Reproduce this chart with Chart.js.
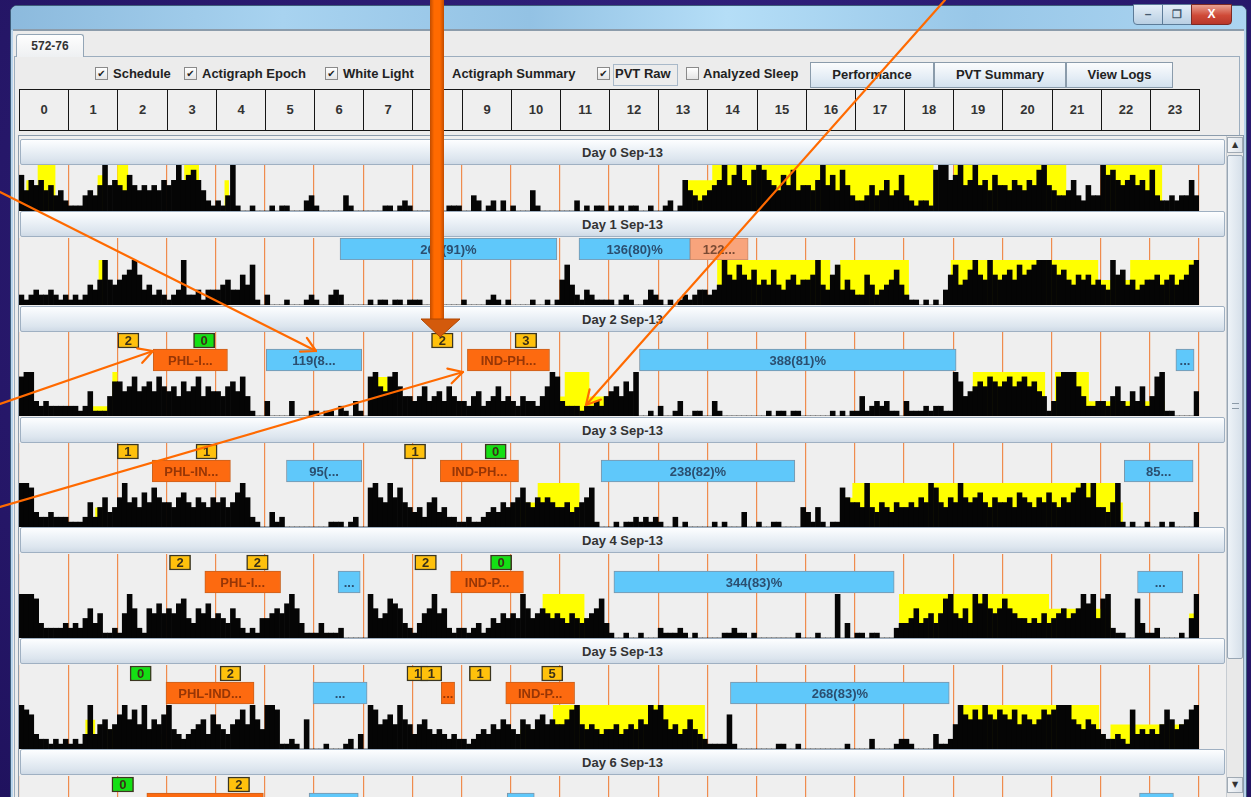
<!DOCTYPE html>
<html>
<head>
<meta charset="utf-8">
<title>572-76</title>
<script src="https://cdn.jsdelivr.net/npm/chart.js@4.4.1/dist/chart.umd.min.js"></script>
<style>
* { box-sizing: border-box; }
body { margin:0; width:1251px; height:797px; overflow:hidden; position:relative;
  font-family:"Liberation Sans", Arial, sans-serif; font-weight:bold; font-size:13px; color:#262626; background:#2a1868; }
div, span { position:absolute; }
#slide { left:0; top:0; width:1251px; height:797px;
  background: radial-gradient(ellipse at 55% 35%, #3a2a8c 0%, #2b1b72 50%, #20125e 100%); }
#frame { left:10px; top:5px; width:1237px; height:800px; background:#b8d4ec; border:1px solid #3d5c7a; border-radius:7px 7px 0 0; }
#titlebar { left:11px; top:6px; width:1235px; height:24px; border-radius:6px 6px 0 0;
  background: linear-gradient(90deg,#8cbadd 0%,#a8d3f0 22%,#93c2e4 42%,#b5def7 58%,#98c7e8 78%,#acd5f1 100%); }
#client { left:13px; top:29px; width:1231px; height:770px; background:#ececec; border-top:2px solid #8c9cab; }
.wbtn { top:4px; height:21px; border:1px solid #5c7b98; color:#fff; text-align:center; line-height:18px; font-size:12px; }
#tab { left:16px; top:34px; width:68px; height:23px; border:1px solid #93a5b6; border-bottom:none; border-radius:3px 3px 0 0;
  background:linear-gradient(#fefefe,#eef0f2); text-align:center; line-height:22px; font-size:12px; color:#333; }
#tabpanel { left:14px; top:56px; width:1226px; height:745px; border:1px solid #9cadbe; background:#ececec; }
.cb { top:67px; width:13px; height:13px; border:1px solid #8a8a8a; background:linear-gradient(#ffffff,#e4e4e4);
  font-family:"DejaVu Sans", sans-serif; font-size:10px; line-height:11px; text-align:center; color:#222; }
.lbl { top:66px; line-height:16px; color:#222; white-space:nowrap; }
.btn { top:62px; height:26px; border:1px solid #8a9bab; background:linear-gradient(#fbfcfd,#e6eef6 55%,#d3e1ee);
  text-align:center; line-height:24px; color:#222; }
.hcell { top:89px; height:42px; border:1px solid #161616; background:#efefef; text-align:center; line-height:40px; color:#333; }
#paneborder { left:18px; top:135px; width:1226px; height:670px; border:1px solid #8c9cac; background:#eeeeee; }
#pane { left:19px; top:136px; width:1207px; height:661px; overflow:hidden; background:#efefef; }
.dayhead { left:1px; width:1205px; height:26px; border:1px solid #9fb0c2; border-radius:2px;
  background:linear-gradient(#fdfeff 0%,#eef3f8 35%,#dce5ee 80%,#cfdae6 100%); text-align:center; line-height:25px; color:#333; }
canvas { position:absolute; }
#sbar { left:1226px; top:136px; width:17px; height:661px; background:#e9e9e9; border-left:1px solid #c6ccd2; }
.sbtn { left:0; width:16px; height:16px; border:1px solid #a0aab4; background:linear-gradient(90deg,#f4f6f8,#dde3ea);
  font-family:"DejaVu Sans", sans-serif; font-size:8px; line-height:14px; text-align:center; color:#333; }
#thumb { left:0; top:19px; width:16px; height:504px; border:1px solid #98a6b4; border-radius:2px;
  background:linear-gradient(90deg,#eef3f8,#d6e0ea); }
svg { position:absolute; left:0; top:0; }
</style>
</head>
<body>
<div id="slide"></div>
<div id="frame"></div>
<div id="titlebar"></div>
<div class="wbtn" style="left:1133px;width:30px;border-radius:0 0 0 4px;background:linear-gradient(#e4eef7,#b9cfe3);color:#465a6e">&#8211;</div>
<div class="wbtn" style="left:1162px;width:30px;background:linear-gradient(#e4eef7,#b9cfe3);color:#465a6e;font-size:11px">&#10064;</div>
<div class="wbtn" style="left:1191px;width:41px;border-radius:0 0 4px 0;background:linear-gradient(#e9a192,#cf4a37 55%,#b8372a);border-color:#7c2a24">X</div>
<div id="client"></div>
<div id="tabpanel"></div>
<div id="tab">572-76</div>
<div id="controls"></div>
<div id="hours"></div>
<div id="paneborder"></div>
<div id="pane"></div>
<div id="sbar">
  <div class="sbtn" style="top:1px">&#9650;</div>
  <div id="thumb"><div style="left:4px;top:247px;width:7px;height:6px;border-top:1px solid #8b9aa8;border-bottom:1px solid #8b9aa8"></div></div>
  <div class="sbtn" style="top:641px">&#9660;</div>
</div>
<svg id="notes" width="1251" height="797"></svg>

<script>
// ---- data ----
const hourLabels = ["0","1","2","3","4","5","6","7","8","9","10","11","12","13","14","15","16","17","18","19","20","21","22","23"];
const dayLabels = ["Day 0 Sep-13","Day 1 Sep-13","Day 2 Sep-13","Day 3 Sep-13","Day 4 Sep-13","Day 5 Sep-13","Day 6 Sep-13"];

// actigraph epochs, 10 per hour (6 min), 0..9 of the row height, one group per hour
const act0 = "7465645342 1113435956 5475454546 5696786421 2139100100 0101100023 1000003100 0000110121 0000000111 0032012020 1000410000 0002010110 1010110010 0120164323 4569579658 9865475845 5469574853 2235346347 3212218996 7956956475 5465465895 4334632533 9786567564 8322323363";
const act1 = "2123223212 1212435954 5679634232 1239223133 3453364810 2000100012 1002320000 0101101101 1100000000 1000012101 0000100101 5842132111 1012100132 1010121233 2349658657 4547435645 5694368353 2264234574 2110101036 8457965965 6758678999 8675465645 4396745345 5645645689";
const act2 = "8993232222 2212511147 7568567586 5647568465 5467584100 3000030001 1011021031 0896589644 3463453643 3245234634 3243324698 3222122324 5647590010 2001300110 0310000000 0010110110 0000010101 1412323110 3111212211 9745676876 7867867541 3899964223 3246325362 4891100005";
const act3 = "9983223222 1112524634 6956475865 5467546546 5645796210 0312000000 0001110120 0896596854 3425634221 1211234354 5685465654 4534568100 0101121212 1002010000 0101000300 1001100004 3141011865 5494354354 4546598546 5965675465 5647654657 5465789694 4359101001 0010100003";
const act4 = "9998322223 2324635112 1596216575 6578436574 5436421214 4565796311 1311120000 0964587632 1356956212 2123124354 5496456545 4354345683 1001001000 2111210100 0001121101 0000000010 0010009030 1101100023 3463453589 5463979656 8654434353 4564569794 8921100831 1200001049";
const act5 = "9873221212 1213935645 7968594657 9432345637 5435685964 9981121060 0010001203 0985675965 3564343232 2123435465 4365467565 5689545434 4534546598 9645346432 1111710000 0000110010 0000000010 0002000012 2100003112 5976869768 7685765687 8999654654 3223218343 4358645689";

// white light: [start hour, end hour, level 0..9]
const light0 = [[0.15,0.22,6],[0.38,0.74,9],[1.6,1.76,7],[2.0,2.22,9],[3.36,3.66,9],[4.18,4.27,6],[13.55,14.1,6],[14.1,18.6,9],[19.02,21.3,9],[22.05,23.25,9]];
const light1 = [[1.62,1.75,9],[2.24,2.32,5],[14.2,16.5,9],[16.7,18.1,9],[18.95,21.95,9],[22.0,22.6,5],[22.6,24,9]];
const light2 = [[0.05,0.1,4],[1.45,1.85,2],[1.9,2.0,9],[7.25,7.5,8],[10.75,11.1,4],[11.1,11.6,9],[11.6,12.1,4],[19.4,20.87,9],[21.07,21.76,9],[21.76,23.3,3]];
const light3 = [[1.55,1.7,4],[7.3,7.55,3],[10.1,10.55,5],[10.55,11.4,9],[16.7,16.95,6],[16.95,22.3,9],[22.3,22.45,5]];
const light4 = [[2.7,2.8,3],[3.2,3.3,4],[10.4,10.65,3],[10.65,11.5,9],[11.5,11.85,4],[17.9,20.95,9],[20.95,22.2,6],[23.8,23.92,5]];
const light5 = [[1.35,1.55,6],[1.8,2.0,4],[2.8,2.9,3],[10.2,10.86,4],[10.86,13.95,9],[19.18,21.97,9],[22.2,24,5]];

// schedule / sleep bars: [start, end, text, kind]
const spans1 = [[6.53,10.94,"266(91)%","sleep"],[11.39,13.65,"136(80)%","sleep"],[13.65,14.83,"122...","other"]];
const spans2 = [[2.73,4.24,"PHL-I...","sched"],[5.03,6.97,"119(8...","sleep"],[9.12,10.79,"IND-PH...","sched"],[12.62,19.06,"388(81)%","sleep"],[23.53,23.9,"...","sleep"]];
const spans3 = [[2.71,4.3,"PHL-IN...","sched"],[5.44,6.97,"95(...","sleep"],[8.57,10.16,"IND-PH...","sched"],[11.84,15.78,"238(82)%","sleep"],[22.48,23.88,"85...","sleep"]];
const spans4 = [[3.78,5.32,"PHL-I...","sched"],[6.49,6.94,"...","sleep"],[8.78,10.26,"IND-P...","sched"],[12.1,17.8,"344(83)%","sleep"],[22.75,23.67,"...","sleep"]];
const spans5 = [[2.99,4.78,"PHL-IND...","sched"],[5.98,7.08,"...","sleep"],[8.59,8.86,"...","sched"],[9.9,11.3,"IND-P...","sched"],[14.47,18.92,"268(83)%","sleep"]];
const spans6 = [[2.6,4.97,"","sched"],[5.9,6.9,"","sleep"],[9.93,10.48,"","sleep"],[22.79,23.48,"","sleep"]];

// PVT count boxes: [start, end, count, colour]
const badges2 = [[2.01,2.44,"2","y"],[3.55,3.98,"0","g"],[8.39,8.83,"2","y"],[10.09,10.53,"3","y"]];
const badges3 = [[2.0,2.43,"1","y"],[3.6,4.03,"1","y"],[7.84,8.27,"1","y"],[9.48,9.91,"0","g"]];
const badges4 = [[3.06,3.49,"2","y"],[4.63,5.07,"2","y"],[8.05,8.49,"2","y"],[9.59,10.02,"0","g"]];
const badges5 = [[2.26,2.69,"0","g"],[4.09,4.51,"2","y"],[7.89,8.32,"1","y"],[8.17,8.6,"1","y"],[9.16,9.6,"1","y"],[10.63,11.06,"5","y"]];
const badges6 = [[1.89,2.33,"0","g"],[4.25,4.69,"2","y"]];

const activity = [act0, act1, act2, act3, act4, act5, null];
const lights = [light0, light1, light2, light3, light4, light5, null];
const spans = [null, spans1, spans2, spans3, spans4, spans5, spans6];
const badges = [null, null, badges2, badges3, badges4, badges5, badges6];

// ---- layout (page pixels) ----
const PX = 19, PY = 136;
const rows = [
  {head:139, span:null, act:165, actH:46},
  {head:211, span:238, spanH:22, act:260, actH:45},
  {head:306, span:332, spanH:40, act:372, actH:44},
  {head:417, span:443, spanH:40, act:483, actH:44},
  {head:527, span:554, spanH:40, act:594, actH:44},
  {head:638, span:665, spanH:40, act:705, actH:44},
  {head:749, span:776, spanH:40, act:null}
];
const ORANGE = "rgba(238,128,60,0.9)";
const FILL = {sched:"#fd6a10", sleep:"#5fc8fa", other:"#f8a47c"};
const EDGE = {sched:"#c9621f", sleep:"#7d95a8", other:"#c88a6c"};
const INK = {sched:"#973606", sleep:"#2b4f70", other:"#7a4a33"};
const BOX = {y:"#ffc10c", g:"#14e014"};

Chart.defaults.font.family = '"Liberation Sans", Arial, sans-serif';
Chart.defaults.font.weight = "bold";
Chart.defaults.font.size = 13;

// controls row
const controls = [
  [95, true, 113, "Schedule"], [184, true, 202, "Actigraph Epoch"], [325, true, 343, "White Light"],
  [430, true, 452, "Actigraph Summary"], [597, true, 615, "PVT Raw"], [686, false, 703, "Analyzed Sleep"]
];
let html = '<div style="left:613px;top:64px;width:65px;height:22px;border:1px solid #a9b9c9"></div>';
controls.forEach(c => {
  html += `<div class="cb" style="left:${c[0]}px">${c[1] ? "&#10004;" : ""}</div>`;
  html += `<div class="lbl" style="left:${c[2]}px">${c[3]}</div>`;
});
[[810,124,"Performance"],[934,132,"PVT Summary"],[1066,107,"View Logs"]].forEach(b => {
  html += `<div class="btn" style="left:${b[0]}px;width:${b[1]}px">${b[2]}</div>`;
});
document.getElementById("controls").innerHTML = html;

// hour header
const cellW = 1180 / 24;
let hh = "";
hourLabels.forEach((h, i) => {
  const l = Math.round(PX + i * cellW), r = Math.round(PX + (i + 1) * cellW);
  hh += `<div class="hcell" style="left:${l}px;width:${r - l + 1}px">${h}</div>`;
});
document.getElementById("hours").innerHTML = hh;

function decode(s) { return s.replace(/ /g, "").split("").map(Number); }

const hourAxis = {
  type: "linear", min: 0, max: 24, offset: false,
  ticks: { display: false, stepSize: 1 },
  grid: { color: ORANGE, lineWidth: 1.2, drawTicks: false, offset: false },
  border: { display: false }
};

const barText = {
  id: "barText",
  afterDatasetsDraw(chart) {
    const ctx = chart.ctx;
    chart.data.datasets.forEach((ds, di) => {
      if (!ds.texts) return;
      chart.getDatasetMeta(di).data.forEach((el, i) => {
        if (!ds.texts[i]) return;
        const p = el.getProps(["x", "y", "base", "height"], true);
        const l = Math.min(p.x, p.base), r = Math.max(p.x, p.base);
        ctx.save();
        ctx.beginPath();
        ctx.rect(l + 1, p.y - p.height / 2, r - l - 2, p.height);
        ctx.clip();
        ctx.font = ds.textFont;
        ctx.fillStyle = ds.ink[i];
        ctx.textAlign = "center";
        ctx.textBaseline = "middle";
        ctx.fillText(ds.texts[i], (l + r) / 2, p.y + 1);
        ctx.restore();
      });
    });
  }
};

const pane = document.getElementById("pane");
function canvasAt(top, h) {
  const c = document.createElement("canvas");
  c.width = 1206; c.height = h;
  c.style.left = "0px"; c.style.top = (top - PY) + "px";
  c.style.width = "1206px"; c.style.height = h + "px";
  pane.appendChild(c);
  return c;
}

const common = {
  responsive: false, animation: false, events: [],
  layout: { padding: { left: 0, right: 26, top: 0, bottom: 0 } },
  plugins: { legend: { display: false }, tooltip: { enabled: false } }
};

rows.forEach((row, d) => {
  const head = document.createElement("div");
  head.className = "dayhead";
  head.style.top = (row.head - PY) + "px";
  head.textContent = dayLabels[d];
  pane.appendChild(head);

  if (row.span !== null) {
    const sp = spans[d] || [], bx = badges[d] || [];
    const h = row.spanH;
    const barY = d > 1 ? 28 : 11;
    new Chart(canvasAt(row.span, h), {
      type: "bar",
      data: { datasets: [
        { data: sp.map(s => ({ x: [s[0], s[1]], y: barY })), grouped: false, barThickness: 22,
          backgroundColor: sp.map(s => FILL[s[3]]), borderColor: sp.map(s => EDGE[s[3]]), borderWidth: 1, borderSkipped: false,
          texts: sp.map(s => s[2]), ink: sp.map(s => INK[s[3]]), textFont: 'bold 13px "Liberation Sans", Arial, sans-serif' },
        { data: bx.map(b => ({ x: [b[0], b[1]], y: 8.5 })), grouped: false, barThickness: 15,
          backgroundColor: bx.map(b => BOX[b[3]]), borderColor: "#3b3620", borderWidth: 1.5, borderSkipped: false,
          texts: bx.map(b => b[2]), ink: bx.map(() => "#3a3018"), textFont: 'bold 13px "Liberation Sans", Arial, sans-serif' }
      ] },
      options: Object.assign({}, common, {
        indexAxis: "y",
        scales: { x: hourAxis, y: { type: "linear", min: 0, max: h, reverse: true, offset: false, display: false } }
      }),
      plugins: [barText]
    });
  }

  if (row.act !== null && activity[d]) {
    const vals = decode(activity[d]);
    const lt = [{ x: 0, y: 0 }];
    lights[d].forEach(s => { lt.push({ x: s[0], y: 0 }, { x: s[0], y: s[2] }, { x: s[1], y: s[2] }, { x: s[1], y: 0 }); });
    lt.push({ x: 24, y: 0 });
    new Chart(canvasAt(row.act, row.actH), {
      type: "bar",
      data: { datasets: [
        { type: "bar", data: vals.map((v, i) => ({ x: (i + 0.5) / 10, y: v })), backgroundColor: "#050505",
          borderWidth: 0, grouped: false, barPercentage: 1, categoryPercentage: 1, order: 0 },
        { type: "line", data: lt, borderWidth: 0, pointRadius: 0, tension: 0, fill: "origin",
          backgroundColor: "#ffff00", order: 1 }
      ] },
      options: Object.assign({}, common, {
        scales: { x: hourAxis, y: { min: 0, max: 9, display: false } }
      })
    });
  }
});

// slide annotations drawn over the screenshot
const svg = document.getElementById("notes");
function arrowHead(x1, y1, x2, y2, len) {
  const a = Math.atan2(y2 - y1, x2 - x1);
  const p = s => `${x2 - len * Math.cos(a + s)},${y2 - len * Math.sin(a + s)}`;
  return `<polyline points="${p(0.5)} ${x2},${y2} ${p(-0.5)}"/>`;
}
const pointers = [[0,192,316,351],[0,404,153,351],[0,507,463,372],[945,0,586,405]];
let s = `<defs><linearGradient id="shaft" x1="0" x2="1">
  <stop offset="0" stop-color="#c14c00"/><stop offset="0.3" stop-color="#ff6a00"/>
  <stop offset="0.7" stop-color="#ff6a00"/><stop offset="1" stop-color="#c14c00"/></linearGradient></defs>`;
s += `<rect x="430" y="-2" width="14" height="322" fill="url(#shaft)"/>`;
s += `<polygon points="421,319 460,319 440,337" fill="#d35a0c" stroke="#b04600" stroke-width="1"/>`;
s += `<g stroke="#ff6a00" stroke-width="2.2" fill="none" stroke-linecap="round" stroke-linejoin="round">`;
pointers.forEach(p => { s += `<line x1="${p[0]}" y1="${p[1]}" x2="${p[2]}" y2="${p[3]}"/>` + arrowHead(p[0], p[1], p[2], p[3], 16); });
s += `</g>`;
svg.innerHTML = s;
</script>
</body>
</html>
